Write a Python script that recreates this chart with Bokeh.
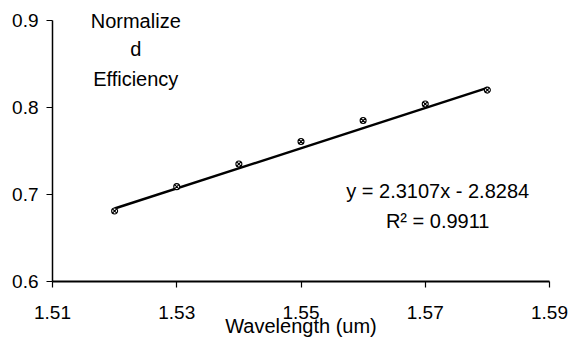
from bokeh.plotting import figure
from bokeh.models import Range1d, Label, FixedTicker
from bokeh.embed import file_html
from bokeh.resources import INLINE

wavelength = [1.52, 1.53, 1.54, 1.55, 1.56, 1.57, 1.58]
efficiency = [0.681, 0.709, 0.735, 0.761, 0.785, 0.804, 0.820]
slope = 2.3107
intercept = -2.8284
x_ticks = [1.51, 1.53, 1.55, 1.57, 1.59]
y_ticks = [0.6, 0.7, 0.8, 0.9]

FONT = "Liberation Sans"
FS = "19px"
FS_TEXT = "20px"

# y range extends a little above 0.9 so the corner caption is not clipped;
# the axis itself is bounded to 0.6..0.9
p = figure(width=571, height=340, output_backend="svg", toolbar_location=None,
           x_range=Range1d(1.51, 1.59), y_range=Range1d(0.6, 0.923),
           min_border_left=52, min_border_right=22, min_border_top=0, min_border_bottom=59)
p.outline_line_color = None
p.xgrid.visible = False
p.ygrid.visible = False
p.background_fill_color = "white"

fit_x = [wavelength[0], wavelength[-1]]
fit_y = [slope * v + intercept for v in fit_x]
p.line(fit_x, fit_y, line_color="black", line_width=2.5)
p.scatter(wavelength, efficiency, marker="circle_x", size=6, fill_color="white",
          line_color="black", line_width=1.1)

for ax in (p.xaxis[0], p.yaxis[0]):
    ax.axis_line_color = "black"
    ax.major_tick_line_color = "black"
    ax.major_tick_line_width = 1.2
    ax.minor_tick_line_color = None
    ax.major_tick_out = 6
    ax.major_tick_in = 0
    ax.major_label_text_font = FONT
    ax.major_label_text_font_size = FS
    ax.major_label_text_color = "black"

p.yaxis.bounds = (y_ticks[0], y_ticks[-1])
p.xaxis.axis_line_width = 2
p.yaxis.axis_line_width = 1.5
p.xaxis.ticker = FixedTicker(ticks=x_ticks)
p.yaxis.ticker = FixedTicker(ticks=y_ticks)
p.xaxis.major_label_overrides = {t: f"{t:.2f}" for t in x_ticks}
p.yaxis.major_label_overrides = {t: f"{t:.1f}" for t in y_ticks}
p.xaxis.major_label_standoff = 18
p.yaxis.major_label_standoff = 8
p.xaxis.axis_label = "Wavelength (um)"
p.xaxis.axis_label_text_font = FONT
p.xaxis.axis_label_text_font_size = FS_TEXT
p.xaxis.axis_label_text_color = "black"
p.xaxis.axis_label_text_font_style = "normal"
p.xaxis.axis_label_standoff = -7

def add_text(x, y, t):
    p.add_layout(Label(x=x, y=y, text=t, text_font=FONT, text_font_size=FS_TEXT,
                       text_color="black", text_align="center", text_baseline="middle"))

add_text(1.5234, 0.900, "Normalize")
add_text(1.5234, 0.8678, "d")
add_text(1.5234, 0.8322, "Efficiency")
add_text(1.5720, 0.7040, "y = 2.3107x - 2.8284")
add_text(1.5720, 0.6700, "R\u00b2 = 0.9911")

open("out.html", "w").write(file_html(p, INLINE))
